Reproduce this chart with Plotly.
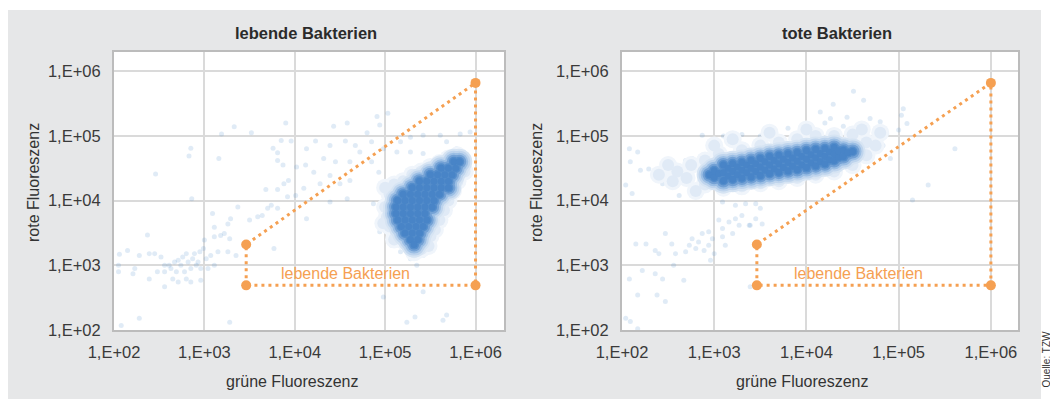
import plotly.graph_objects as go

# ---------------- axis ticks ----------------
tick_values = [1e2, 1e3, 1e4, 1e5, 1e6]
tick_labels = ["1,E+02", "1,E+03", "1,E+04", "1,E+05", "1,E+06"]

titles = ["lebende Bakterien", "tote Bakterien"]
x_title = "grüne Fluoreszenz"
y_title = "rote Fluoreszenz"
gate_label = "lebende Bakterien"
source_text = "Quelle: TZW"

# gate (same in both panels): green / red fluorescence of the polygon corners
gate_green = [2900, 2900, 1.0e6, 1.0e6, 2900]
gate_red = [490, 2100, 6.6e5, 490, 490]

# ---------------- panel 1: lebende Bakterien (log10 green, log10 red) -------
live_core = [
    (5.76, 4.60), (5.82, 4.60),
    (5.62, 4.50), (5.70, 4.50), (5.78, 4.50),
    (5.50, 4.40), (5.58, 4.40), (5.66, 4.40), (5.74, 4.40),
    (5.38, 4.30), (5.46, 4.30), (5.54, 4.30), (5.62, 4.30), (5.70, 4.30),
    (5.30, 4.20), (5.38, 4.20), (5.46, 4.20), (5.54, 4.20), (5.62, 4.20), (5.70, 4.20),
    (5.20, 4.10), (5.28, 4.10), (5.36, 4.10), (5.44, 4.10), (5.52, 4.10), (5.60, 4.10),
    (5.14, 4.00), (5.22, 4.00), (5.30, 4.00), (5.38, 4.00), (5.46, 4.00), (5.54, 4.00),
    (5.12, 3.90), (5.20, 3.90), (5.28, 3.90), (5.36, 3.90), (5.44, 3.90), (5.52, 3.90),
    (5.12, 3.80), (5.20, 3.80), (5.28, 3.80), (5.36, 3.80), (5.44, 3.80),
    (5.14, 3.70), (5.22, 3.70), (5.30, 3.70), (5.38, 3.70), (5.46, 3.70),
    (5.18, 3.60), (5.26, 3.60), (5.34, 3.60), (5.42, 3.60),
    (5.22, 3.50), (5.30, 3.50), (5.38, 3.50),
    (5.28, 3.40), (5.36, 3.40),
    (5.32, 3.32),
]
live_halo = [
    (5.05, 3.60), (5.02, 3.75), (5.00, 3.90), (5.05, 4.10), (5.10, 4.25), (5.20, 4.30), (5.30, 4.40),
    (5.40, 4.45), (5.50, 4.52), (5.60, 4.58), (5.70, 4.65), (5.80, 4.70), (5.85, 4.60), (5.88, 4.45),
    (5.80, 4.30), (5.75, 4.15), (5.70, 4.00), (5.65, 3.85), (5.60, 3.70), (5.55, 3.55), (5.50, 3.45),
    (5.48, 3.30), (5.40, 3.25), (5.30, 3.28), (5.20, 3.38), (5.12, 3.50), (5.15, 4.18), (5.25, 4.25),
    (5.35, 4.30), (5.45, 4.38), (5.58, 3.95), (5.62, 4.10), (5.40, 3.35), (5.32, 3.20), (5.10, 3.40),
    (4.98, 3.65), (5.72, 4.28), (5.66, 4.48), (5.00, 4.20),
]
live_sparse = [
    (3.33, 5.14), (3.19, 5.03), (3.52, 5.05), (3.90, 5.20), (2.85, 4.81), (2.83, 4.69), (3.16, 4.65),
    (2.46, 4.41), (2.86, 4.03), (3.85, 4.93), (3.96, 4.92), (3.76, 4.81), (3.81, 4.74), (3.81, 4.62),
    (3.87, 4.55), (4.02, 4.52), (4.12, 4.55), (3.93, 4.31), (3.88, 4.26), (3.81, 4.17), (3.68, 4.17),
    (3.92, 4.06), (4.01, 4.08), (3.74, 3.93), (3.81, 3.88), (3.70, 3.88), (3.64, 3.77), (3.59, 3.75),
    (3.50, 3.70), (3.37, 3.90), (3.29, 3.72), (3.26, 3.64), (3.09, 3.80), (3.11, 3.59), (3.18, 3.46),
    (3.22, 3.49), (3.28, 3.41), (3.11, 3.44), (3.00, 3.39), (2.99, 3.26), (2.95, 3.21), (2.89, 3.18),
    (2.80, 3.18), (2.76, 3.13), (2.71, 3.08), (2.67, 3.05), (2.61, 3.00), (2.56, 3.00), (2.52, 3.13),
    (2.45, 3.18), (2.39, 3.18), (2.37, 3.47), (2.28, 3.15), (2.15, 3.23), (2.06, 3.17), (2.05, 3.00),
    (2.05, 2.90), (2.21, 2.87), (2.23, 2.95), (2.39, 2.79), (2.56, 2.90), (2.56, 2.67), (2.65, 2.79),
    (2.71, 2.74), (2.78, 2.90), (2.80, 2.79), (2.85, 2.95), (2.91, 3.00), (2.96, 2.95), (3.04, 2.95),
    (3.11, 3.00), (2.96, 2.77), (2.85, 2.74), (3.15, 3.21), (3.26, 3.21), (3.35, 3.15), (3.77, 3.26),
    (2.28, 2.18), (2.08, 2.07), (3.28, 2.12), (2.74, 3.00), (2.82, 3.05), (2.87, 3.10), (2.93, 3.05),
    (3.02, 3.10), (3.07, 3.15), (2.63, 2.95), (2.69, 2.90), (2.48, 2.90),
    (4.43, 5.15), (4.58, 5.20), (4.91, 5.30), (5.03, 5.35), (4.94, 5.17), (4.80, 5.05), (4.23, 4.92),
    (4.39, 4.85), (4.56, 4.92), (4.67, 4.85), (4.13, 4.80), (4.32, 4.65), (4.45, 4.60), (4.21, 4.44),
    (4.39, 4.39), (4.61, 4.60), (4.72, 4.75), (4.28, 4.26), (4.50, 4.26), (4.10, 4.19), (4.61, 4.31),
    (4.58, 4.03), (4.39, 3.98), (4.13, 3.72), (4.85, 4.91), (4.98, 4.80), (5.17, 4.91), (5.28, 4.98),
    (5.42, 5.01), (5.61, 5.01), (5.83, 5.03), (5.94, 5.06), (5.68, 4.91), (5.13, 4.75), (5.28, 4.75),
    (5.42, 4.73), (4.87, 3.95), (4.96, 3.88), (5.02, 3.62), (4.94, 3.52), (5.07, 3.31), (5.17, 3.21),
    (5.28, 3.10), (5.35, 3.00), (5.42, 3.15), (4.98, 2.51), (5.24, 2.12), (5.33, 2.20), (5.64, 2.15),
    (5.68, 2.23), (5.42, 2.59), (5.75, 4.60), (5.87, 4.75), (5.79, 4.80), (4.85, 4.60), (4.93, 4.44),
    (4.98, 4.24), (5.02, 4.03),
]

# ---------------- panel 2: tote Bakterien (log10 green, log10 red) ----------
dead_core = [
    (2.95, 4.40), (3.00, 4.36), (3.00, 4.46), (3.05, 4.42),
    (3.10, 4.31), (3.10, 4.43), (3.10, 4.55), (3.15, 4.38), (3.15, 4.50),
    (3.20, 4.33), (3.20, 4.45), (3.20, 4.57), (3.25, 4.40), (3.25, 4.52),
    (3.30, 4.35), (3.30, 4.47), (3.30, 4.59), (3.35, 4.43), (3.35, 4.55),
    (3.40, 4.37), (3.40, 4.50), (3.40, 4.62), (3.45, 4.45), (3.45, 4.57),
    (3.50, 4.39), (3.50, 4.52), (3.50, 4.65), (3.55, 4.47), (3.55, 4.60),
    (3.60, 4.42), (3.60, 4.55), (3.60, 4.68), (3.65, 4.49), (3.65, 4.62),
    (3.70, 4.44), (3.70, 4.57), (3.70, 4.70), (3.75, 4.51), (3.75, 4.64),
    (3.80, 4.46), (3.80, 4.59), (3.80, 4.72), (3.85, 4.53), (3.85, 4.66),
    (3.90, 4.48), (3.90, 4.61), (3.90, 4.74), (3.95, 4.55), (3.95, 4.68),
    (4.00, 4.51), (4.00, 4.64), (4.00, 4.77), (4.05, 4.58), (4.05, 4.71),
    (4.10, 4.54), (4.10, 4.66), (4.10, 4.79), (4.15, 4.60), (4.15, 4.73),
    (4.20, 4.57), (4.20, 4.68), (4.20, 4.80), (4.25, 4.63), (4.25, 4.75),
    (4.30, 4.62), (4.30, 4.72), (4.30, 4.82), (4.35, 4.67), (4.35, 4.77),
    (4.40, 4.68), (4.40, 4.78), (4.45, 4.74), (4.50, 4.76),
]
dead_halo = [
    (2.60, 4.45), (2.70, 4.35), (2.75, 4.55), (2.90, 4.25), (2.90, 4.62), (3.05, 4.72), (3.10, 4.20),
    (3.30, 4.22), (3.30, 4.78), (3.50, 4.27), (3.50, 4.85), (3.70, 4.30), (3.70, 4.90), (3.90, 4.35),
    (3.90, 4.95), (4.10, 4.40), (4.10, 5.00), (4.30, 4.45), (4.30, 5.00), (4.50, 4.55), (4.50, 5.02),
    (4.65, 4.70), (4.65, 4.90), (4.75, 4.85), (2.50, 4.55), (2.40, 4.40), (2.55, 4.30), (3.00, 4.85),
    (4.80, 5.05), (4.60, 5.10), (4.00, 5.10), (3.60, 5.05), (3.20, 4.95), (2.80, 4.15),
]
dead_sparse = [
    (2.87, 5.01), (2.98, 4.91), (2.08, 4.80), (2.17, 4.75), (2.29, 4.49), (2.20, 4.47), (2.09, 4.60),
    (2.47, 4.49), (2.58, 4.55), (2.69, 4.62), (2.76, 4.65), (2.83, 4.60), (2.91, 4.55), (2.54, 4.34),
    (2.40, 4.42), (2.44, 4.26), (2.11, 4.11), (2.04, 4.24), (2.62, 4.08), (2.87, 4.16), (2.94, 4.24),
    (3.09, 3.98), (3.23, 3.93), (3.34, 3.95), (3.45, 3.95), (3.50, 3.88), (3.30, 3.77), (3.23, 3.72),
    (3.27, 3.62), (3.16, 3.67), (3.09, 3.57), (3.05, 3.70), (2.94, 3.52), (2.98, 3.41), (2.87, 3.49),
    (2.83, 3.36), (2.76, 3.41), (2.73, 3.31), (2.47, 3.49), (2.54, 3.33), (2.36, 3.23), (2.40, 3.18),
    (2.15, 3.33), (2.26, 3.33), (2.58, 3.18), (2.69, 3.21), (2.80, 3.26), (2.89, 3.23), (3.00, 3.18),
    (2.96, 3.08), (3.09, 3.44), (3.20, 3.49), (3.45, 3.72), (3.39, 3.62), (3.52, 3.64), (2.56, 3.00),
    (2.22, 2.92), (2.36, 2.87), (2.08, 2.79), (2.44, 2.79), (2.67, 2.77), (2.17, 2.54), (2.38, 2.54),
    (2.47, 2.44), (2.04, 2.18), (2.09, 2.13), (2.17, 2.02), (2.94, 3.31), (3.12, 3.31), (3.39, 2.67),
    (3.38, 3.62),
    (4.51, 5.69), (4.62, 5.55), (4.29, 5.49), (5.05, 5.42), (5.03, 5.32), (4.80, 5.22), (5.09, 5.19),
    (5.00, 5.09), (4.87, 5.03), (5.61, 4.80), (5.32, 4.24), (5.15, 4.01), (4.26, 5.27), (4.44, 5.29),
    (4.69, 5.27), (4.76, 5.06), (4.83, 4.85), (4.91, 4.65), (4.15, 5.37),
    (4.00, 5.15), (4.20, 5.20), (3.80, 5.12), (4.40, 5.15), (3.50, 5.00), (3.30, 5.02), (3.10, 5.00),
]

# ---------------- styles ----------------
ORANGE = "#F5A052"
GRID = "#dadada"
FRAME = "#bcbcbc"
TEXT = "#2b2b2b"
FONT = "Liberation Sans, Arial, sans-serif"
TICK_FONT = dict(family=FONT, size=16.5, color="#3a3a3a")

fig = go.Figure()


def add_cloud(points, xa, ya, size, color):
    fig.add_trace(go.Scatter(
        x=[10 ** p[0] for p in points], y=[10 ** p[1] for p in points],
        mode="markers", xaxis=xa, yaxis=ya, hoverinfo="skip", showlegend=False,
        marker=dict(size=size, color=color, line=dict(width=0)),
    ))


panels = [
    ("x", "y", live_sparse, live_halo, live_core),
    ("x2", "y2", dead_sparse, dead_halo, dead_core),
]
for xa, ya, sparse, halo, core in panels:
    add_cloud(sparse, xa, ya, 5, "rgba(74,134,200,0.17)")
    add_cloud(halo + core, xa, ya, 18, "rgb(240,245,251)")
    add_cloud(halo + core, xa, ya, 12, "rgb(224,234,246)")
    add_cloud(core, xa, ya, 26, "rgb(214,228,243)")
    add_cloud(core, xa, ya, 22, "rgb(190,212,237)")
    add_cloud(core, xa, ya, 18, "rgb(155,190,228)")
    add_cloud(core, xa, ya, 14, "rgb(115,161,213)")
    add_cloud(core, xa, ya, 10, "rgb(84,141,203)")
    add_cloud(core, xa, ya, 7, "rgb(72,132,199)")
    # gate polygon
    fig.add_trace(go.Scatter(
        x=gate_green, y=gate_red, mode="lines", xaxis=xa, yaxis=ya,
        line=dict(color=ORANGE, width=3, dash="3px,4px"), hoverinfo="skip", showlegend=False,
    ))
    fig.add_trace(go.Scatter(
        x=gate_green[:4], y=gate_red[:4], mode="markers", xaxis=xa, yaxis=ya,
        marker=dict(size=10, color=ORANGE), hoverinfo="skip", showlegend=False,
    ))
    fig.add_annotation(
        x=4.56, y=2.87, xref=xa, yref=ya, text=gate_label, showarrow=False,
        font=dict(family=FONT, size=16, color=ORANGE),
    )

W, H = 1050, 399
axis_common = dict(
    type="log", tickvals=tick_values, ticktext=tick_labels, tickfont=TICK_FONT,
    showgrid=True, gridcolor=GRID, gridwidth=1.5, zeroline=False,
    showline=True, linecolor=FRAME, linewidth=2, mirror=True, ticks="",
    fixedrange=True, automargin=False,
)

fig.update_layout(
    width=W, height=H,
    margin=dict(l=0, r=0, t=0, b=0, autoexpand=False),
    paper_bgcolor="#e6e7e8", plot_bgcolor="white",
    xaxis=dict(axis_common, domain=[114 / W, 504 / W], range=[2, 6.315], anchor="y",
               ticklabelstandoff=6),
    yaxis=dict(axis_common, domain=[1 - 330 / H, 1 - 52 / H], range=[2, 6.297], anchor="x",
               ticklabelstandoff=8),
    xaxis2=dict(axis_common, domain=[622 / W, 1018 / W], range=[2, 6.294], anchor="y2",
                ticklabelstandoff=6),
    yaxis2=dict(axis_common, domain=[1 - 330 / H, 1 - 52 / H], range=[2, 6.297], anchor="x2",
                ticklabelstandoff=8),
    shapes=[
        dict(type="rect", xref="paper", yref="paper", x0=0, x1=1, y0=1 - 10 / H, y1=1.01,
             fillcolor="white", line=dict(width=0), layer="below"),
        dict(type="rect", xref="paper", yref="paper", x0=-0.01, x1=8 / W, y0=-0.01, y1=1.01,
             fillcolor="white", line=dict(width=0), layer="below"),
        dict(type="rect", xref="paper", yref="paper", x0=1041 / W, x1=1.01, y0=-0.01, y1=1.01,
             fillcolor="white", line=dict(width=0), layer="below"),
    ],
)

title_font = dict(family=FONT, size=16.5, color=TEXT)
label_font = dict(family=FONT, size=16, color="#333333")
for cx, t in zip([306, 837], titles):
    fig.add_annotation(x=cx / W, y=1 - 33 / H, xref="paper", yref="paper", text=f"<b>{t}</b>",
                       showarrow=False, font=title_font, xanchor="center", yanchor="middle")
for cx in [292, 802]:
    fig.add_annotation(x=cx / W, y=1 - 381 / H, xref="paper", yref="paper", text=x_title,
                       showarrow=False, font=label_font, xanchor="center", yanchor="middle")
for cx in [33, 536]:
    fig.add_annotation(x=cx / W, y=1 - 183 / H, xref="paper", yref="paper", text=y_title,
                       showarrow=False, font=label_font, textangle=-90,
                       xanchor="center", yanchor="middle")
fig.add_annotation(x=1045.5 / W, y=1 - 360 / H, xref="paper", yref="paper", text=source_text,
                   showarrow=False, textangle=-90, xanchor="center", yanchor="middle",
                   borderpad=0,
                   font=dict(family=FONT, size=10, color="#333333"))

fig.write_html(
    "out.html",
    config={"displayModeBar": False},
    post_script="document.body.style.margin='0';document.body.style.overflow='hidden';",
)
